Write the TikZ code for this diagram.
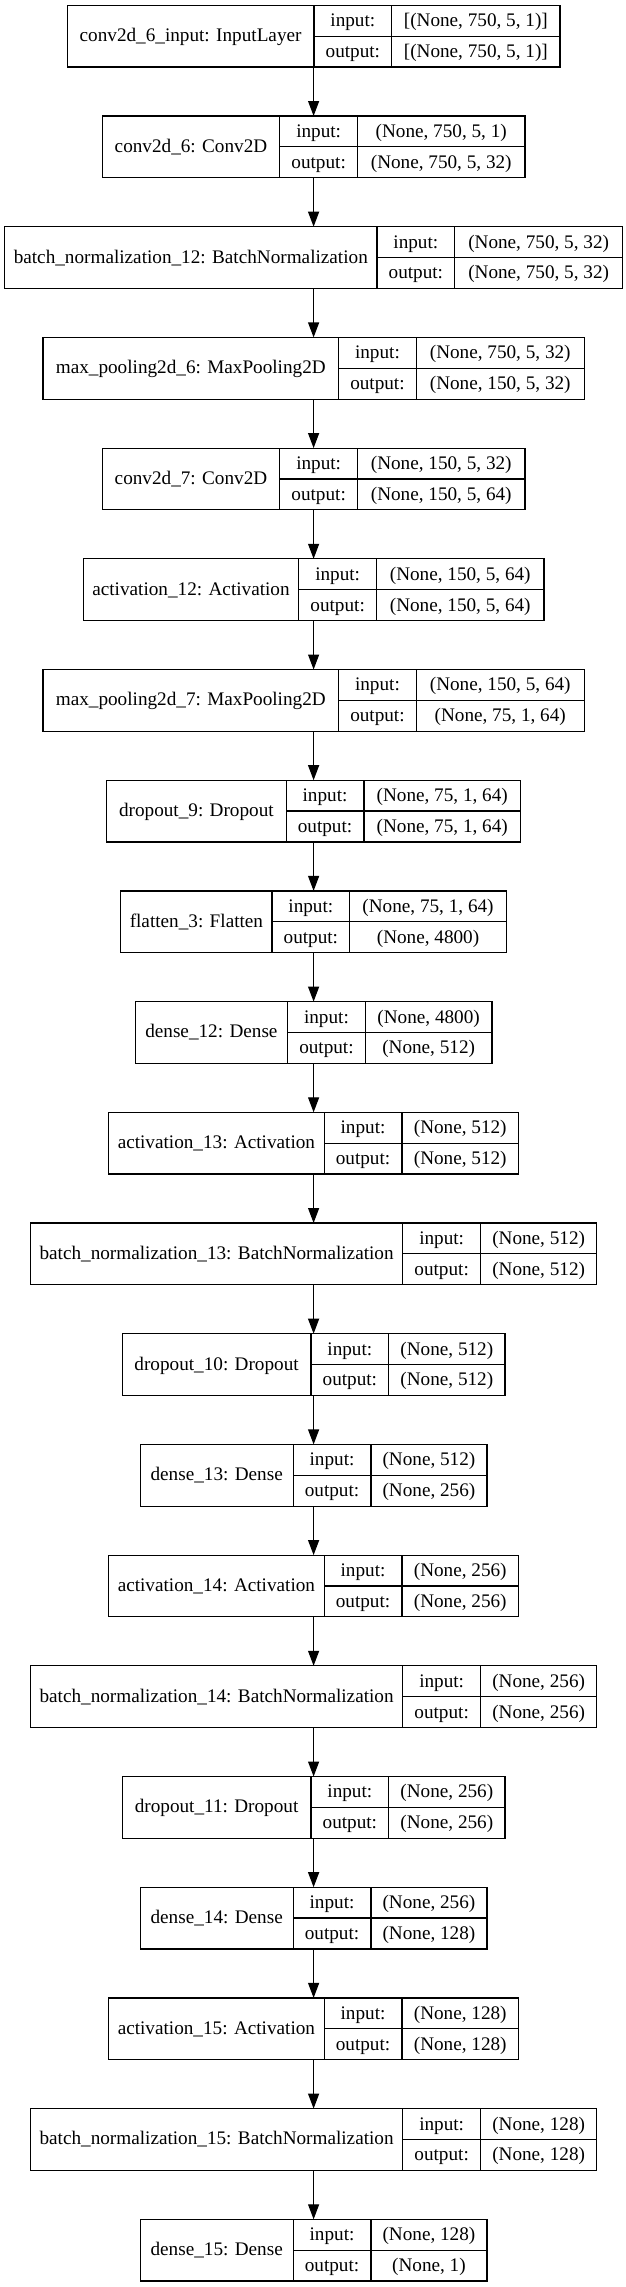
\documentclass[tikz,border=0pt]{standalone}
\usepackage{fontspec}
\setmainfont{Liberation Serif}
\usetikzlibrary{arrows.meta}

\tikzset{
  cell/.style={draw, line width=1.2pt, inner sep=0pt, outer sep=0pt,
    font=\fontsize{19.2}{23}\selectfont},
  layerbox/.style={inner sep=0pt, outer sep=0pt, minimum height=61.7},
  namecell/.style={cell, minimum height=61.7, anchor=west, text height=14.5pt, text depth=3.5pt},
  rowcell/.style={cell, minimum height=30.85, anchor=north west, text height=15pt, text depth=3pt},
  flow/.style={line width=1.2pt, -{Triangle[length=15pt,width=11pt]}}
}

% \layer{id}{row}{total width}{name width}{name}{input}{output}
\newcommand{\layer}[7]{%
  \node[layerbox, minimum width=#3] (#1) at (313.6, {110.7*#2+36.15}) {};
  \node[namecell, minimum width=#4] (#1-name) at (#1.west) {#5};
  \node[rowcell, minimum width=77.7] (#1-in) at (#1-name.north east) {input:};
  \node[rowcell, minimum width=77.7] (#1-out) at (#1-in.south west) {output:};
  \node[rowcell, minimum width=#3-#4-77.7] (#1-iv) at (#1-in.north east) {#6};
  \node[rowcell, minimum width=#3-#4-77.7] (#1-ov) at (#1-out.north east) {#7};
}

\begin{document}
\begin{tikzpicture}[x=1pt, y=-1pt]
\useasboundingbox (0,0) rectangle (625,2287);

\layer{convin}{0}{492.8}{246.8}{conv2d\_6\_input: InputLayer}{[(None, 750, 5, 1)]}{[(None, 750, 5, 1)]}
\layer{conv6}{1}{422.8}{177.6}{conv2d\_6: Conv2D}{(None, 750, 5, 1)}{(None, 750, 5, 32)}
\layer{bn12}{2}{618}{372.4}{batch\_normalization\_12: BatchNormalization}{(None, 750, 5, 32)}{(None, 750, 5, 32)}
\layer{pool6}{3}{541.2}{295.6}{max\_pooling2d\_6: MaxPooling2D}{(None, 750, 5, 32)}{(None, 150, 5, 32)}
\layer{conv7}{4}{422.8}{177.6}{conv2d\_7: Conv2D}{(None, 150, 5, 32)}{(None, 150, 5, 64)}
\layer{act12}{5}{460.8}{215.6}{activation\_12: Activation}{(None, 150, 5, 64)}{(None, 150, 5, 64)}
\layer{pool7}{6}{541.2}{295.6}{max\_pooling2d\_7: MaxPooling2D}{(None, 150, 5, 64)}{(None, 75, 1, 64)}
\layer{drop9}{7}{414}{179.6}{dropout\_9: Dropout}{(None, 75, 1, 64)}{(None, 75, 1, 64)}
\layer{flat3}{8}{385.6}{151.2}{flatten\_3: Flatten}{(None, 75, 1, 64)}{(None, 4800)}
\layer{dense12}{9}{356.8}{152.4}{dense\_12: Dense}{(None, 4800)}{(None, 512)}
\layer{act13}{10}{410}{215.6}{activation\_13: Activation}{(None, 512)}{(None, 512)}
\layer{bn13}{11}{566.4}{372.4}{batch\_normalization\_13: BatchNormalization}{(None, 512)}{(None, 512)}
\layer{drop10}{12}{382.8}{188.8}{dropout\_10: Dropout}{(None, 512)}{(None, 512)}
\layer{dense13}{13}{346.8}{153}{dense\_13: Dense}{(None, 512)}{(None, 256)}
\layer{act14}{14}{410}{215.6}{activation\_14: Activation}{(None, 256)}{(None, 256)}
\layer{bn14}{15}{566.4}{372.4}{batch\_normalization\_14: BatchNormalization}{(None, 256)}{(None, 256)}
\layer{drop11}{16}{382.8}{188.8}{dropout\_11: Dropout}{(None, 256)}{(None, 256)}
\layer{dense14}{17}{346.8}{153}{dense\_14: Dense}{(None, 256)}{(None, 128)}
\layer{act15}{18}{410}{215.6}{activation\_15: Activation}{(None, 128)}{(None, 128)}
\layer{bn15}{19}{566.4}{372.4}{batch\_normalization\_15: BatchNormalization}{(None, 128)}{(None, 128)}
\layer{dense15}{20}{346.8}{153}{dense\_15: Dense}{(None, 128)}{(None, 1)}

\draw[flow] (convin) -- (conv6);
\draw[flow] (conv6) -- (bn12);
\draw[flow] (bn12) -- (pool6);
\draw[flow] (pool6) -- (conv7);
\draw[flow] (conv7) -- (act12);
\draw[flow] (act12) -- (pool7);
\draw[flow] (pool7) -- (drop9);
\draw[flow] (drop9) -- (flat3);
\draw[flow] (flat3) -- (dense12);
\draw[flow] (dense12) -- (act13);
\draw[flow] (act13) -- (bn13);
\draw[flow] (bn13) -- (drop10);
\draw[flow] (drop10) -- (dense13);
\draw[flow] (dense13) -- (act14);
\draw[flow] (act14) -- (bn14);
\draw[flow] (bn14) -- (drop11);
\draw[flow] (drop11) -- (dense14);
\draw[flow] (dense14) -- (act15);
\draw[flow] (act15) -- (bn15);
\draw[flow] (bn15) -- (dense15);

\end{tikzpicture}
\end{document}
